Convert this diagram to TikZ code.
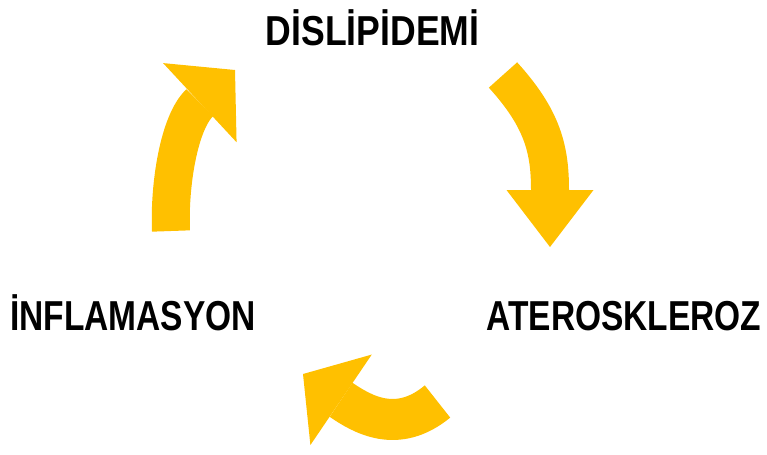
\documentclass[tikz,border=0pt]{standalone}
\usepackage{fontspec}
\newfontfamily\stagefont[FakeStretch=0.8]{Liberation Sans Bold}
\newfontfamily\stagewidefont[FakeStretch=0.85]{Liberation Sans Bold}
\usepackage{tikz}
\usetikzlibrary{arrows.meta}
\definecolor{cycleyellow}{HTML}{FFC000}

\begin{document}
\begin{tikzpicture}[
        x=0.75pt, y=-0.75pt,
        stage/.style={font=\stagefont\fontsize{31.4}{36}\selectfont, inner sep=0pt, anchor=base},
        cyclearrow/.style={draw=cycleyellow, line width=28.5pt}
    ]
    \useasboundingbox (0,0) rectangle (767,454);
    % the three stages
    \node[stage, font=\stagewidefont\fontsize{31.4}{36}\selectfont] (dislipidemi) at (372.5,45) {DİSLİPİDEMİ};
    \node[stage] (ateroskleroz) at (624,330) {ATEROSKLEROZ};
    \node[stage] (inflamasyon) at (133,330) {İNFLAMASYON};
    % arrow ends
    \coordinate (tail1) at (503,75);
    \coordinate (head1) at (550,247);
    \coordinate (tail2) at (437.5,401.5);
    \coordinate (head2) at (303,374);
    \coordinate (tail3) at (171,231);
    \coordinate (head3) at (235,70);
    % the cycle
    \draw[cyclearrow, -{Triangle[length=42.75pt, width=65.25pt, line width=0pt]}]
        (tail1) .. controls (543,119) and (550,150) .. (head1);
    \draw[cyclearrow, line width=30.75pt, -{Triangle[length=34.5pt, width=82pt, line width=0pt]}]
        (tail2) .. controls (397,435) and (362,414) .. (head2);
    \draw[cyclearrow, -{Triangle[length=36pt, width=81pt, line width=0pt]}]
        (tail3) .. controls (169,185) and (179,122) .. (head3);
\end{tikzpicture}
\end{document}
